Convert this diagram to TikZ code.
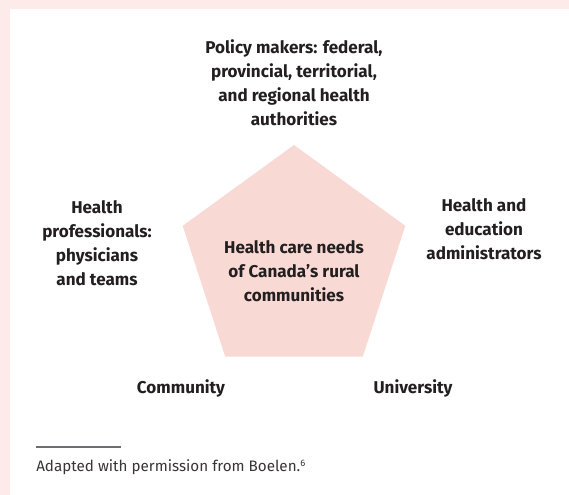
\documentclass[tikz,border=0pt]{standalone}
\usepackage{fontspec}
\setmainfont{Fira Sans}
\usetikzlibrary{shapes.geometric}
\definecolor{framepink}{HTML}{FCEBE8}
\definecolor{pentafill}{HTML}{F9D9D3}
\definecolor{txt}{HTML}{231F20}
\definecolor{rulegray}{HTML}{6D6E71}
\tikzset{
  lbl/.style={font=\bfseries\fontsize{12.8}{18}\selectfont, text=txt, align=center, inner sep=0pt},
  note/.style={font=\fontsize{11.4}{14}\selectfont, text=txt!90, anchor=west, inner sep=0pt},
}
\begin{document}
\begin{tikzpicture}[x=0.75pt,y=-0.75pt]
\useasboundingbox (0,0) rectangle (569,495);
\fill[framepink] (0,0) rectangle (569,495);
\fill[white] (10,9) rectangle (569,495);
% pentagon
\node[regular polygon, regular polygon sides=5, minimum size=234*0.75pt, fill=pentafill, inner sep=0pt] (pent) at (294,262) {};
\node[lbl] (center) at (294,271) {Health care needs\\of Canada’s rural\\communities};
\node[lbl] (policy) at (294,83) {Policy makers: federal,\\provincial, territorial,\\and regional health\\authorities};
\node[lbl] (prof) at (97,243) {Health\\professionals:\\physicians\\and teams};
\node[lbl] (admin) at (484,229) {Health and\\education\\administrators};
\node[lbl] (comm) at (181,388) {Community};
\node[lbl] (univ) at (413,388) {University};
\coordinate (r1) at (36,447);
\coordinate (r2) at (121,447);
\draw[rulegray, line width=0.8pt] (r1) -- (r2);
\node[note] (src) at (36,467) {Adapted with permission from Boelen.\textsuperscript{\scriptsize 6}};
\end{tikzpicture}
\end{document}
